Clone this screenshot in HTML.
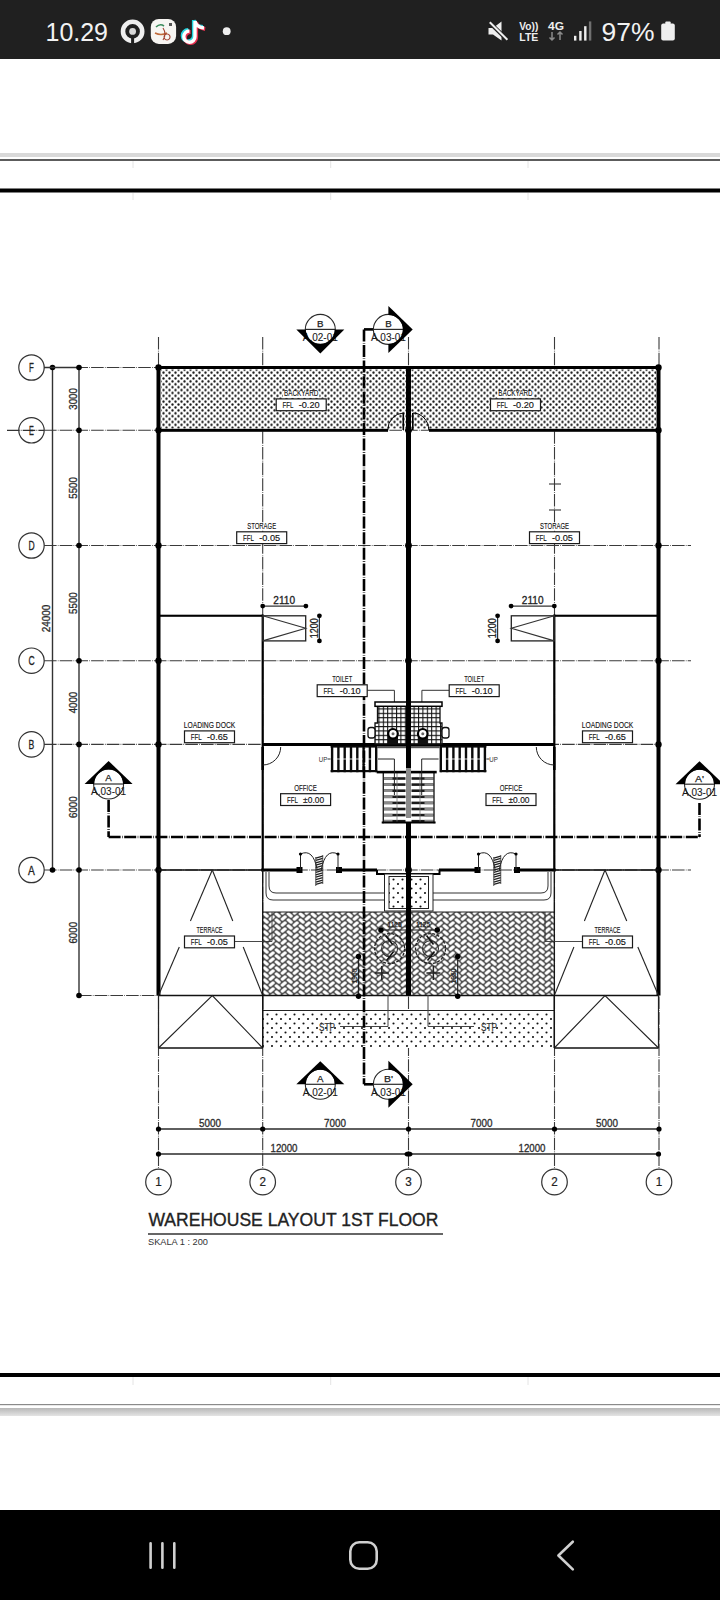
<!DOCTYPE html>
<html><head><meta charset="utf-8"><style>
html,body{margin:0;padding:0;background:#fff;}
body{width:720px;height:1600px;position:relative;overflow:hidden;font-family:"Liberation Sans",sans-serif;}
#sb{position:absolute;left:0;top:0;width:720px;height:58.5px;background:#202020;}
#nb{position:absolute;left:0;top:1510px;width:720px;height:90px;background:#000;}
svg{position:absolute;left:0;top:0;}
</style></head><body>
<svg width="720" height="1600" viewBox="0 0 720 1600">
<defs>
<pattern id="dots" x="0" y="0" width="6" height="5.8" patternUnits="userSpaceOnUse">
  <rect width="6" height="5.8" fill="#fff"/>
  <circle cx="1.5" cy="1.45" r="1.15" fill="#141414"/>
  <circle cx="4.5" cy="4.35" r="1.15" fill="#141414"/>
</pattern>
<pattern id="dots2" x="0" y="0" width="9" height="9" patternUnits="userSpaceOnUse">
  <rect width="9" height="9" fill="#fff"/>
  <circle cx="2" cy="2" r="1.05" fill="#111"/>
  <circle cx="6.5" cy="6.5" r="1.05" fill="#111"/>
</pattern>
<pattern id="herr" x="262.7" y="912" width="12" height="6" patternUnits="userSpaceOnUse">
  <rect width="12" height="6" fill="#4e4e4e"/>
  <g fill="#fff">
    <rect x="-3.3" y="-1.55" width="6.6" height="3.1" rx="1.4" transform="translate(3,3) rotate(40)"/>
    <rect x="-3.3" y="-1.55" width="6.6" height="3.1" rx="1.4" transform="translate(3,-3) rotate(40)"/>
    <rect x="-3.3" y="-1.55" width="6.6" height="3.1" rx="1.4" transform="translate(3,9) rotate(40)"/>
    <rect x="-3.3" y="-1.55" width="6.6" height="3.1" rx="1.4" transform="translate(9,0) rotate(-40)"/>
    <rect x="-3.3" y="-1.55" width="6.6" height="3.1" rx="1.4" transform="translate(9,6) rotate(-40)"/>
    <rect x="-3.3" y="-1.55" width="6.6" height="3.1" rx="1.4" transform="translate(9,-6) rotate(-40)"/>
    <rect x="-3.3" y="-1.55" width="6.6" height="3.1" rx="1.4" transform="translate(9,12) rotate(-40)"/>
  </g>
</pattern>
</defs>
<rect x="0" y="153" width="720" height="4" fill="#d9d9d9" stroke="none" stroke-width="1" />
<rect x="0" y="159" width="720" height="2" fill="#5c5c5c" stroke="none" stroke-width="1" />
<rect x="0" y="188.5" width="720" height="4" fill="#000" stroke="none" stroke-width="1" />
<rect x="0" y="1373" width="720" height="4" fill="#000" stroke="none" stroke-width="1" />
<rect x="0" y="1404" width="720" height="1.2" fill="#8a8a8a" stroke="none" stroke-width="1" />
<linearGradient id="g1" x1="0" y1="0" x2="0" y2="1"><stop offset="0" stop-color="#b8b8b8"/><stop offset="1" stop-color="#e4e4e4"/></linearGradient>
<rect x="0" y="1408" width="720" height="8" fill="url(#g1)" stroke="none" stroke-width="1" />
<line x1="133" y1="161" x2="133" y2="168" stroke="#e4e4e4" stroke-width="1" />
<line x1="133" y1="193" x2="133" y2="200" stroke="#e4e4e4" stroke-width="1" />
<line x1="133" y1="1377" x2="133" y2="1385" stroke="#e4e4e4" stroke-width="1" />
<line x1="330.7" y1="161" x2="330.7" y2="168" stroke="#e4e4e4" stroke-width="1" />
<line x1="330.7" y1="193" x2="330.7" y2="200" stroke="#e4e4e4" stroke-width="1" />
<line x1="330.7" y1="1377" x2="330.7" y2="1385" stroke="#e4e4e4" stroke-width="1" />
<line x1="528" y1="161" x2="528" y2="168" stroke="#e4e4e4" stroke-width="1" />
<line x1="528" y1="193" x2="528" y2="200" stroke="#e4e4e4" stroke-width="1" />
<line x1="528" y1="1377" x2="528" y2="1385" stroke="#e4e4e4" stroke-width="1" />
<line x1="158.5" y1="337" x2="158.5" y2="1170" stroke="#3a3a3a" stroke-width="1.1" stroke-dasharray="12.6 1.2 0.7 1.2"/>
<line x1="262.7" y1="337" x2="262.7" y2="1170" stroke="#3a3a3a" stroke-width="1.1" stroke-dasharray="12.6 1.2 0.7 1.2"/>
<line x1="408.5" y1="337" x2="408.5" y2="1170" stroke="#3a3a3a" stroke-width="1.1" stroke-dasharray="12.6 1.2 0.7 1.2"/>
<line x1="554.5" y1="337" x2="554.5" y2="1170" stroke="#3a3a3a" stroke-width="1.1" stroke-dasharray="12.6 1.2 0.7 1.2"/>
<line x1="659.0" y1="337" x2="659.0" y2="1170" stroke="#3a3a3a" stroke-width="1.1" stroke-dasharray="12.6 1.2 0.7 1.2"/>
<line x1="44" y1="367.5" x2="658.5" y2="367.5" stroke="#3a3a3a" stroke-width="1.1" stroke-dasharray="12.6 1.2 0.7 1.2"/>
<line x1="44" y1="430.3" x2="658.5" y2="430.3" stroke="#3a3a3a" stroke-width="1.1" stroke-dasharray="12.6 1.2 0.7 1.2"/>
<line x1="44" y1="545.5" x2="691" y2="545.5" stroke="#3a3a3a" stroke-width="1.1" stroke-dasharray="12.6 1.2 0.7 1.2"/>
<line x1="44" y1="660.7" x2="691" y2="660.7" stroke="#3a3a3a" stroke-width="1.1" stroke-dasharray="12.6 1.2 0.7 1.2"/>
<line x1="44" y1="744.4" x2="658.5" y2="744.4" stroke="#3a3a3a" stroke-width="1.1" stroke-dasharray="12.6 1.2 0.7 1.2"/>
<line x1="44" y1="870.0" x2="691" y2="870.0" stroke="#3a3a3a" stroke-width="1.1" stroke-dasharray="12.6 1.2 0.7 1.2"/>
<line x1="79" y1="995.5" x2="158.5" y2="995.5" stroke="#3a3a3a" stroke-width="1" stroke-dasharray="12.6 1.2 0.7 1.2"/>
<circle cx="31.5" cy="367.5" r="12.7" fill="#fff" stroke="#333" stroke-width="1.2"/>
<text x="31.5" y="372.0" font-family="Liberation Sans" font-size="12.5" text-anchor="middle" fill="#222" font-weight="normal" textLength="4.8" lengthAdjust="spacingAndGlyphs" stroke="#222" stroke-width="0.3">F</text>
<circle cx="31.5" cy="430.3" r="12.7" fill="#fff" stroke="#333" stroke-width="1.2"/>
<line x1="7" y1="430.3" x2="44" y2="430.3" stroke="#333" stroke-width="1.3" stroke-dasharray="12.6 1.2 0.7 1.2"/>
<text x="31.5" y="434.8" font-family="Liberation Sans" font-size="12.5" text-anchor="middle" fill="#222" font-weight="normal" textLength="4.8" lengthAdjust="spacingAndGlyphs" stroke="#222" stroke-width="0.3">E</text>
<circle cx="31.5" cy="545.5" r="12.7" fill="#fff" stroke="#333" stroke-width="1.2"/>
<text x="31.5" y="550.0" font-family="Liberation Sans" font-size="12.5" text-anchor="middle" fill="#222" font-weight="normal" textLength="6.2" lengthAdjust="spacingAndGlyphs" stroke="#222" stroke-width="0.3">D</text>
<circle cx="31.5" cy="660.7" r="12.7" fill="#fff" stroke="#333" stroke-width="1.2"/>
<text x="31.5" y="665.2" font-family="Liberation Sans" font-size="12.5" text-anchor="middle" fill="#222" font-weight="normal" textLength="6.2" lengthAdjust="spacingAndGlyphs" stroke="#222" stroke-width="0.3">C</text>
<circle cx="31.5" cy="744.4" r="12.7" fill="#fff" stroke="#333" stroke-width="1.2"/>
<text x="31.5" y="748.9" font-family="Liberation Sans" font-size="12.5" text-anchor="middle" fill="#222" font-weight="normal" textLength="5.8" lengthAdjust="spacingAndGlyphs" stroke="#222" stroke-width="0.3">B</text>
<circle cx="31.5" cy="870.0" r="12.7" fill="#fff" stroke="#333" stroke-width="1.2"/>
<text x="31.5" y="874.5" font-family="Liberation Sans" font-size="12.5" text-anchor="middle" fill="#222" font-weight="normal" textLength="6.8" lengthAdjust="spacingAndGlyphs" stroke="#222" stroke-width="0.3">A</text>
<circle cx="158.5" cy="1182" r="12.8" fill="#fff" stroke="#333" stroke-width="1.2"/>
<text x="158.5" y="1186.3" font-family="Liberation Sans" font-size="12" text-anchor="middle" fill="#222" font-weight="normal" textLength="6.5" lengthAdjust="spacingAndGlyphs" stroke="#222" stroke-width="0.2">1</text>
<circle cx="262.7" cy="1182" r="12.8" fill="#fff" stroke="#333" stroke-width="1.2"/>
<text x="262.7" y="1186.3" font-family="Liberation Sans" font-size="12" text-anchor="middle" fill="#222" font-weight="normal" textLength="6.5" lengthAdjust="spacingAndGlyphs" stroke="#222" stroke-width="0.2">2</text>
<circle cx="408.5" cy="1182" r="12.8" fill="#fff" stroke="#333" stroke-width="1.2"/>
<text x="408.5" y="1186.3" font-family="Liberation Sans" font-size="12" text-anchor="middle" fill="#222" font-weight="normal" textLength="6.5" lengthAdjust="spacingAndGlyphs" stroke="#222" stroke-width="0.2">3</text>
<circle cx="554.5" cy="1182" r="12.8" fill="#fff" stroke="#333" stroke-width="1.2"/>
<text x="554.5" y="1186.3" font-family="Liberation Sans" font-size="12" text-anchor="middle" fill="#222" font-weight="normal" textLength="6.5" lengthAdjust="spacingAndGlyphs" stroke="#222" stroke-width="0.2">2</text>
<circle cx="659.0" cy="1182" r="12.8" fill="#fff" stroke="#333" stroke-width="1.2"/>
<text x="659.0" y="1186.3" font-family="Liberation Sans" font-size="12" text-anchor="middle" fill="#222" font-weight="normal" textLength="6.5" lengthAdjust="spacingAndGlyphs" stroke="#222" stroke-width="0.2">1</text>
<line x1="52.5" y1="367.5" x2="52.5" y2="870.0" stroke="#333" stroke-width="1.4" />
<circle cx="52.5" cy="367.5" r="2.8" fill="#000"/>
<circle cx="52.5" cy="870.0" r="2.8" fill="#000"/>
<line x1="44" y1="367.5" x2="79" y2="367.5" stroke="#333" stroke-width="1.3" />
<line x1="79" y1="367.5" x2="79" y2="995.5" stroke="#333" stroke-width="1.4" />
<circle cx="79" cy="367.5" r="2.8" fill="#000"/>
<circle cx="79" cy="430.3" r="2.8" fill="#000"/>
<circle cx="79" cy="545.5" r="2.8" fill="#000"/>
<circle cx="79" cy="660.7" r="2.8" fill="#000"/>
<circle cx="79" cy="744.4" r="2.8" fill="#000"/>
<circle cx="79" cy="870.0" r="2.8" fill="#000"/>
<circle cx="79" cy="995.5" r="2.8" fill="#000"/>
<text x="50.5" y="618.4" font-family="Liberation Sans" font-size="11" text-anchor="middle" fill="#333" font-weight="normal" textLength="27.6" lengthAdjust="spacingAndGlyphs" transform="rotate(-90 50.5 618.4)" stroke="#222" stroke-width="0.3">24000</text>
<text x="77.2" y="398.9" font-family="Liberation Sans" font-size="11" text-anchor="middle" fill="#333" font-weight="normal" textLength="21.6" lengthAdjust="spacingAndGlyphs" transform="rotate(-90 77.2 398.9)" stroke="#222" stroke-width="0.3">3000</text>
<text x="77.2" y="487.9" font-family="Liberation Sans" font-size="11" text-anchor="middle" fill="#333" font-weight="normal" textLength="21.6" lengthAdjust="spacingAndGlyphs" transform="rotate(-90 77.2 487.9)" stroke="#222" stroke-width="0.3">5500</text>
<text x="77.2" y="603.1" font-family="Liberation Sans" font-size="11" text-anchor="middle" fill="#333" font-weight="normal" textLength="21.6" lengthAdjust="spacingAndGlyphs" transform="rotate(-90 77.2 603.1)" stroke="#222" stroke-width="0.3">5500</text>
<text x="77.2" y="702.55" font-family="Liberation Sans" font-size="11" text-anchor="middle" fill="#333" font-weight="normal" textLength="21.6" lengthAdjust="spacingAndGlyphs" transform="rotate(-90 77.2 702.55)" stroke="#222" stroke-width="0.3">4000</text>
<text x="77.2" y="807.2" font-family="Liberation Sans" font-size="11" text-anchor="middle" fill="#333" font-weight="normal" textLength="21.6" lengthAdjust="spacingAndGlyphs" transform="rotate(-90 77.2 807.2)" stroke="#222" stroke-width="0.3">6000</text>
<text x="77.2" y="932.75" font-family="Liberation Sans" font-size="11" text-anchor="middle" fill="#333" font-weight="normal" textLength="21.6" lengthAdjust="spacingAndGlyphs" transform="rotate(-90 77.2 932.75)" stroke="#222" stroke-width="0.3">6000</text>
<line x1="158.5" y1="1129" x2="658.5" y2="1129" stroke="#2a2a2a" stroke-width="1.4" />
<circle cx="158.5" cy="1129" r="2.6" fill="#000"/>
<circle cx="262.7" cy="1129" r="2.6" fill="#000"/>
<circle cx="408.5" cy="1129" r="2.6" fill="#000"/>
<circle cx="554.5" cy="1129" r="2.6" fill="#000"/>
<circle cx="659.0" cy="1129" r="2.6" fill="#000"/>
<line x1="158.5" y1="1154" x2="658.5" y2="1154" stroke="#2a2a2a" stroke-width="1.4" />
<circle cx="158.5" cy="1154" r="2.6" fill="#000"/>
<circle cx="658.5" cy="1154" r="2.6" fill="#000"/>
<ellipse cx="408.5" cy="1154" rx="4" ry="2.6" fill="#000"/>
<text x="210" y="1126.5" font-family="Liberation Sans" font-size="11" text-anchor="middle" fill="#333" font-weight="normal" textLength="22" lengthAdjust="spacingAndGlyphs" stroke="#222" stroke-width="0.3">5000</text>
<text x="335" y="1126.5" font-family="Liberation Sans" font-size="11" text-anchor="middle" fill="#333" font-weight="normal" textLength="22" lengthAdjust="spacingAndGlyphs" stroke="#222" stroke-width="0.3">7000</text>
<text x="481.5" y="1126.5" font-family="Liberation Sans" font-size="11" text-anchor="middle" fill="#333" font-weight="normal" textLength="22" lengthAdjust="spacingAndGlyphs" stroke="#222" stroke-width="0.3">7000</text>
<text x="607" y="1126.5" font-family="Liberation Sans" font-size="11" text-anchor="middle" fill="#333" font-weight="normal" textLength="22" lengthAdjust="spacingAndGlyphs" stroke="#222" stroke-width="0.3">5000</text>
<text x="284" y="1151.5" font-family="Liberation Sans" font-size="11" text-anchor="middle" fill="#333" font-weight="normal" textLength="27" lengthAdjust="spacingAndGlyphs" stroke="#222" stroke-width="0.3">12000</text>
<text x="532" y="1151.5" font-family="Liberation Sans" font-size="11" text-anchor="middle" fill="#333" font-weight="normal" textLength="27" lengthAdjust="spacingAndGlyphs" stroke="#222" stroke-width="0.3">12000</text>
<text x="148.4" y="1226.2" font-family="Liberation Sans" font-size="18" text-anchor="start" fill="#222" font-weight="normal" textLength="290" lengthAdjust="spacingAndGlyphs" stroke="#222" stroke-width="0.35">WAREHOUSE LAYOUT 1ST FLOOR</text>
<line x1="148" y1="1234" x2="443" y2="1234" stroke="#333" stroke-width="1.3" />
<text x="148" y="1244.5" font-family="Liberation Sans" font-size="9" text-anchor="start" fill="#333" font-weight="normal" textLength="60" lengthAdjust="spacingAndGlyphs" >SKALA 1 : 200</text>
<rect x="161" y="369.5" width="495" height="59" fill="url(#dots)" stroke="none" stroke-width="1" />
<rect x="262.7" y="912" width="291.6" height="83.5" fill="url(#herr)" stroke="none" stroke-width="1" />
<rect x="262.7" y="1010.5" width="291.6" height="37.5" fill="url(#dots2)" stroke="none" stroke-width="1" />
<rect x="156.5" y="366" width="4" height="629.5" fill="#000" stroke="none" stroke-width="1" />
<rect x="656.5" y="366" width="4" height="629.5" fill="#000" stroke="none" stroke-width="1" />
<rect x="156.5" y="366" width="504" height="3" fill="#000" stroke="none" stroke-width="1" />
<circle cx="158.5" cy="367.5" r="3.2" fill="#000"/>
<circle cx="658.5" cy="367.5" r="3.2" fill="#000"/>
<circle cx="158.5" cy="430.3" r="3.2" fill="#000"/>
<circle cx="658.5" cy="430.3" r="3.2" fill="#000"/>
<circle cx="408.5" cy="430.3" r="3.4" fill="#000"/>
<circle cx="158.5" cy="545.5" r="3.2" fill="#000"/>
<circle cx="658.5" cy="545.5" r="3.2" fill="#000"/>
<circle cx="408.5" cy="545.5" r="3.4" fill="#000"/>
<circle cx="158.5" cy="660.7" r="3.2" fill="#000"/>
<circle cx="658.5" cy="660.7" r="3.2" fill="#000"/>
<circle cx="408.5" cy="660.7" r="3.4" fill="#000"/>
<circle cx="158.5" cy="744.4" r="3.2" fill="#000"/>
<circle cx="658.5" cy="744.4" r="3.2" fill="#000"/>
<circle cx="408.5" cy="744.4" r="3.4" fill="#000"/>
<circle cx="158.5" cy="870" r="3.2" fill="#000"/>
<circle cx="658.5" cy="870" r="3.2" fill="#000"/>
<circle cx="408.5" cy="870" r="3.4" fill="#000"/>
<rect x="406" y="366" width="5" height="404" fill="#000" stroke="none" stroke-width="1" />
<rect x="406" y="823" width="5" height="172.5" fill="#000" stroke="none" stroke-width="1" />
<rect x="156.5" y="428.8" width="231.5" height="3" fill="#000" stroke="none" stroke-width="1" />
<rect x="429" y="428.8" width="231.5" height="3" fill="#000" stroke="none" stroke-width="1" />
<line x1="403.3" y1="413" x2="403.3" y2="430" stroke="#000" stroke-width="1.6" />
<line x1="412.8" y1="413" x2="412.8" y2="430" stroke="#000" stroke-width="1.6" />
<path d="M403.3,413 A16,17 0 0 0 387.8,430" fill="none" stroke="#000" stroke-width="1"/>
<path d="M412.8,413 A16,17 0 0 1 428.8,430" fill="none" stroke="#000" stroke-width="1"/>
<rect x="158.5" y="614.7" width="104.2" height="2.1" fill="#000" stroke="none" stroke-width="1" />
<rect x="554.3" y="614.7" width="104.2" height="2.1" fill="#000" stroke="none" stroke-width="1" />
<rect x="261.6" y="614.5" width="2.2" height="256" fill="#000" stroke="none" stroke-width="1" />
<rect x="553.2" y="614.5" width="2.2" height="256" fill="#000" stroke="none" stroke-width="1" />
<rect x="262.7" y="615.8" width="43" height="25.1" fill="none" stroke="#222" stroke-width="1.3" />
<path d="M262.7,615.8 L305.7,628.3 L262.7,640.9" fill="none" stroke="#333" stroke-width="1.1"/>
<rect x="511.3" y="615.8" width="43" height="25.1" fill="none" stroke="#222" stroke-width="1.3" />
<path d="M554.3,615.8 L511.3,628.3 L554.3,640.9" fill="none" stroke="#333" stroke-width="1.1"/>
<line x1="262.7" y1="606.1" x2="305.9" y2="606.1" stroke="#333" stroke-width="1.2" />
<circle cx="262.7" cy="606.1" r="2.4" fill="#000"/>
<circle cx="305.9" cy="606.1" r="2.4" fill="#000"/>
<text x="284.2" y="604.4" font-family="Liberation Sans" font-size="10.5" text-anchor="middle" fill="#222" font-weight="normal" textLength="21.7" lengthAdjust="spacingAndGlyphs" stroke="#222" stroke-width="0.3">2110</text>
<line x1="319.4" y1="615.8" x2="319.4" y2="640.9" stroke="#333" stroke-width="1.2" />
<circle cx="319.4" cy="615.8" r="2.4" fill="#000"/>
<circle cx="319.4" cy="640.9" r="2.4" fill="#000"/>
<text x="317.8" y="628.3" font-family="Liberation Sans" font-size="10.5" text-anchor="middle" fill="#222" font-weight="normal" textLength="20" lengthAdjust="spacingAndGlyphs" transform="rotate(-90 317.8 628.3)" stroke="#222" stroke-width="0.3">1200</text>
<line x1="511.1" y1="606.1" x2="554.3" y2="606.1" stroke="#333" stroke-width="1.2" />
<circle cx="511.1" cy="606.1" r="2.4" fill="#000"/>
<circle cx="554.3" cy="606.1" r="2.4" fill="#000"/>
<text x="532.7" y="604.4" font-family="Liberation Sans" font-size="10.5" text-anchor="middle" fill="#222" font-weight="normal" textLength="21.7" lengthAdjust="spacingAndGlyphs" stroke="#222" stroke-width="0.3">2110</text>
<line x1="497.6" y1="615.8" x2="497.6" y2="640.9" stroke="#333" stroke-width="1.2" />
<circle cx="497.6" cy="615.8" r="2.4" fill="#000"/>
<circle cx="497.6" cy="640.9" r="2.4" fill="#000"/>
<text x="496" y="628.3" font-family="Liberation Sans" font-size="10.5" text-anchor="middle" fill="#222" font-weight="normal" textLength="20" lengthAdjust="spacingAndGlyphs" transform="rotate(-90 496 628.3)" stroke="#222" stroke-width="0.3">1200</text>
<line x1="549" y1="484" x2="561" y2="484" stroke="#333" stroke-width="1.1" />
<line x1="549" y1="510" x2="561" y2="510" stroke="#333" stroke-width="1.1" />
<rect x="262.7" y="743" width="291.6" height="3" fill="#000" stroke="none" stroke-width="1" />
<line x1="158.5" y1="870" x2="262.7" y2="870" stroke="#111" stroke-width="1.7" />
<rect x="261.2" y="868.5" width="40" height="3" fill="#000" stroke="none" stroke-width="1" />
<rect x="337" y="868.5" width="40" height="3" fill="#000" stroke="none" stroke-width="1" />
<rect x="439" y="868.5" width="41" height="3" fill="#000" stroke="none" stroke-width="1" />
<rect x="516" y="868.5" width="39.8" height="3" fill="#000" stroke="none" stroke-width="1" />
<line x1="554.3" y1="870" x2="658.5" y2="870" stroke="#111" stroke-width="1.7" />
<path d="M377,870 L377,874 L439.5,874 L439.5,870" fill="none" stroke="#000" stroke-width="2"/>
<line x1="212.3" y1="870" x2="190.4370517928287" y2="921" stroke="#222" stroke-width="1.1" />
<line x1="179.29123505976096" y1="947" x2="158.5" y2="995.5" stroke="#222" stroke-width="1.1" />
<line x1="212.3" y1="870" x2="232.78127490039842" y2="921" stroke="#222" stroke-width="1.1" />
<line x1="243.22270916334662" y1="947" x2="262.7" y2="995.5" stroke="#222" stroke-width="1.1" />
<line x1="158.5" y1="995.5" x2="262.7" y2="995.5" stroke="#111" stroke-width="1.4" />
<line x1="158.5" y1="1048" x2="262.7" y2="1048" stroke="#111" stroke-width="1.4" />
<line x1="158.5" y1="995.5" x2="158.5" y2="1048" stroke="#222" stroke-width="1.2" />
<line x1="262.7" y1="995.5" x2="262.7" y2="1048" stroke="#222" stroke-width="1.2" />
<path d="M158.5,1048 L212.3,995.5 L262.7,1048" fill="none" stroke="#222" stroke-width="1.1"/>
<line x1="605" y1="870" x2="584.396812749004" y2="921" stroke="#222" stroke-width="1.1" />
<line x1="573.8932270916334" y1="947" x2="554.3" y2="995.5" stroke="#222" stroke-width="1.1" />
<line x1="605" y1="870" x2="626.7410358565737" y2="921" stroke="#222" stroke-width="1.1" />
<line x1="637.8247011952192" y1="947" x2="658.5" y2="995.5" stroke="#222" stroke-width="1.1" />
<line x1="554.3" y1="995.5" x2="658.5" y2="995.5" stroke="#111" stroke-width="1.4" />
<line x1="554.3" y1="1048" x2="658.5" y2="1048" stroke="#111" stroke-width="1.4" />
<line x1="554.3" y1="995.5" x2="554.3" y2="1048" stroke="#222" stroke-width="1.2" />
<line x1="658.5" y1="995.5" x2="658.5" y2="1048" stroke="#222" stroke-width="1.2" />
<path d="M554.3,1048 L605,995.5 L658.5,1048" fill="none" stroke="#222" stroke-width="1.1"/>
<line x1="262.7" y1="912" x2="554.3" y2="912" stroke="#222" stroke-width="1.1" />
<line x1="262.7" y1="995.5" x2="554.3" y2="995.5" stroke="#111" stroke-width="1.4" />
<line x1="262.7" y1="1010.5" x2="554.3" y2="1010.5" stroke="#222" stroke-width="1.2" />
<line x1="262.7" y1="870" x2="262.7" y2="1048" stroke="#111" stroke-width="1.3" />
<line x1="554.3" y1="870" x2="554.3" y2="1048" stroke="#111" stroke-width="1.3" />
<path d="M269,872 L269,886 Q269,893 276,893 L384,893" fill="none" stroke="#333" stroke-width="1"/>
<path d="M266,872 L266,893 Q266,900 273,900 L384,900" fill="none" stroke="#333" stroke-width="1"/>
<path d="M548,872 L548,886 Q548,893 541,893 L433,893" fill="none" stroke="#333" stroke-width="1"/>
<path d="M551,872 L551,893 Q551,900 544,900 L433,900" fill="none" stroke="#333" stroke-width="1"/>
<path d="M234.5,941.5 L272,941.5 L272,912" fill="none" stroke="#333" stroke-width="0.9"/>
<path d="M633,941.5 L545,941.5 L545,912" fill="none" stroke="#333" stroke-width="0.9"/>
<rect x="384.5" y="874" width="48.5" height="37" fill="#fff" stroke="#222" stroke-width="1" />
<rect x="389" y="876.5" width="39.5" height="32" fill="url(#dots2)" stroke="#222" stroke-width="1" />
<text x="327" y="1030.5" font-family="Liberation Sans" font-size="10" text-anchor="middle" fill="#333" font-weight="normal" textLength="16" lengthAdjust="spacingAndGlyphs" stroke="#333" stroke-width="0.2">STP</text>
<text x="489" y="1030.5" font-family="Liberation Sans" font-size="10" text-anchor="middle" fill="#333" font-weight="normal" textLength="16" lengthAdjust="spacingAndGlyphs" stroke="#333" stroke-width="0.2">STP</text>
<path d="M340,1026.5 L388,1026.5 L388,995" fill="none" stroke="#444" stroke-width="1"/>
<path d="M474,1026.5 L428,1026.5 L428,995" fill="none" stroke="#444" stroke-width="1"/>
<rect x="330.6" y="746" width="46.599999999999966" height="26.200000000000045" fill="#fff" stroke="none" stroke-width="1" />
<rect x="330.90000000000003" y="746" width="2.4" height="26.200000000000045" fill="#0a0a0a" stroke="none" stroke-width="1" />
<rect x="337.20000000000005" y="746" width="2.4" height="26.200000000000045" fill="#0a0a0a" stroke="none" stroke-width="1" />
<rect x="343.50000000000006" y="746" width="2.4" height="26.200000000000045" fill="#0a0a0a" stroke="none" stroke-width="1" />
<rect x="349.8" y="746" width="2.4" height="26.200000000000045" fill="#0a0a0a" stroke="none" stroke-width="1" />
<rect x="356.1" y="746" width="2.4" height="26.200000000000045" fill="#0a0a0a" stroke="none" stroke-width="1" />
<rect x="362.40000000000003" y="746" width="2.4" height="26.200000000000045" fill="#0a0a0a" stroke="none" stroke-width="1" />
<rect x="368.70000000000005" y="746" width="2.4" height="26.200000000000045" fill="#0a0a0a" stroke="none" stroke-width="1" />
<rect x="375.00000000000006" y="746" width="2.4" height="26.200000000000045" fill="#0a0a0a" stroke="none" stroke-width="1" />
<rect x="330.6" y="746" width="46.599999999999966" height="1.6" fill="#0a0a0a" stroke="none" stroke-width="1" />
<rect x="330.6" y="770.0" width="46.599999999999966" height="2.2" fill="#0a0a0a" stroke="none" stroke-width="1" />
<line x1="333.6" y1="759" x2="374.2" y2="759" stroke="#fff" stroke-width="0.8" />
<rect x="439.8" y="746" width="46.599999999999966" height="26.200000000000045" fill="#fff" stroke="none" stroke-width="1" />
<rect x="483.7" y="746" width="2.4" height="26.200000000000045" fill="#0a0a0a" stroke="none" stroke-width="1" />
<rect x="477.4" y="746" width="2.4" height="26.200000000000045" fill="#0a0a0a" stroke="none" stroke-width="1" />
<rect x="471.09999999999997" y="746" width="2.4" height="26.200000000000045" fill="#0a0a0a" stroke="none" stroke-width="1" />
<rect x="464.8" y="746" width="2.4" height="26.200000000000045" fill="#0a0a0a" stroke="none" stroke-width="1" />
<rect x="458.5" y="746" width="2.4" height="26.200000000000045" fill="#0a0a0a" stroke="none" stroke-width="1" />
<rect x="452.2" y="746" width="2.4" height="26.200000000000045" fill="#0a0a0a" stroke="none" stroke-width="1" />
<rect x="445.9" y="746" width="2.4" height="26.200000000000045" fill="#0a0a0a" stroke="none" stroke-width="1" />
<rect x="439.59999999999997" y="746" width="2.4" height="26.200000000000045" fill="#0a0a0a" stroke="none" stroke-width="1" />
<rect x="439.8" y="746" width="46.599999999999966" height="1.6" fill="#0a0a0a" stroke="none" stroke-width="1" />
<rect x="439.8" y="770.0" width="46.599999999999966" height="2.2" fill="#0a0a0a" stroke="none" stroke-width="1" />
<line x1="442.8" y1="759" x2="483.4" y2="759" stroke="#fff" stroke-width="0.8" />
<line x1="327.5" y1="759" x2="330.6" y2="759" stroke="#333" stroke-width="1" />
<line x1="486.4" y1="759" x2="489.5" y2="759" stroke="#333" stroke-width="1" />
<rect x="377.2" y="746" width="62.6" height="2.2" fill="#555" stroke="none" stroke-width="1" />
<rect x="381.7" y="772.2" width="53.9" height="51.1" fill="#fff" stroke="none" stroke-width="1" />
<rect x="383.5" y="777.2" width="22" height="2.6" fill="#1a1a1a" stroke="none" stroke-width="1" />
<rect x="411.5" y="777.2" width="22" height="2.6" fill="#1a1a1a" stroke="none" stroke-width="1" />
<rect x="383.5" y="777.2" width="9" height="2.6" fill="#8a8a8a" stroke="none" stroke-width="1" />
<rect x="424.5" y="777.2" width="9" height="2.6" fill="#8a8a8a" stroke="none" stroke-width="1" />
<rect x="383.5" y="783.3000000000001" width="22" height="2.6" fill="#1a1a1a" stroke="none" stroke-width="1" />
<rect x="411.5" y="783.3000000000001" width="22" height="2.6" fill="#1a1a1a" stroke="none" stroke-width="1" />
<rect x="383.5" y="783.3000000000001" width="9" height="2.6" fill="#8a8a8a" stroke="none" stroke-width="1" />
<rect x="424.5" y="783.3000000000001" width="9" height="2.6" fill="#8a8a8a" stroke="none" stroke-width="1" />
<rect x="383.5" y="789.4000000000001" width="22" height="2.6" fill="#1a1a1a" stroke="none" stroke-width="1" />
<rect x="411.5" y="789.4000000000001" width="22" height="2.6" fill="#1a1a1a" stroke="none" stroke-width="1" />
<rect x="383.5" y="789.4000000000001" width="9" height="2.6" fill="#8a8a8a" stroke="none" stroke-width="1" />
<rect x="424.5" y="789.4000000000001" width="9" height="2.6" fill="#8a8a8a" stroke="none" stroke-width="1" />
<rect x="383.5" y="795.5" width="22" height="2.6" fill="#1a1a1a" stroke="none" stroke-width="1" />
<rect x="411.5" y="795.5" width="22" height="2.6" fill="#1a1a1a" stroke="none" stroke-width="1" />
<rect x="383.5" y="795.5" width="9" height="2.6" fill="#8a8a8a" stroke="none" stroke-width="1" />
<rect x="424.5" y="795.5" width="9" height="2.6" fill="#8a8a8a" stroke="none" stroke-width="1" />
<rect x="383.5" y="801.6" width="22" height="2.6" fill="#1a1a1a" stroke="none" stroke-width="1" />
<rect x="411.5" y="801.6" width="22" height="2.6" fill="#1a1a1a" stroke="none" stroke-width="1" />
<rect x="383.5" y="801.6" width="9" height="2.6" fill="#8a8a8a" stroke="none" stroke-width="1" />
<rect x="424.5" y="801.6" width="9" height="2.6" fill="#8a8a8a" stroke="none" stroke-width="1" />
<rect x="383.5" y="807.7" width="22" height="2.6" fill="#1a1a1a" stroke="none" stroke-width="1" />
<rect x="411.5" y="807.7" width="22" height="2.6" fill="#1a1a1a" stroke="none" stroke-width="1" />
<rect x="383.5" y="807.7" width="9" height="2.6" fill="#8a8a8a" stroke="none" stroke-width="1" />
<rect x="424.5" y="807.7" width="9" height="2.6" fill="#8a8a8a" stroke="none" stroke-width="1" />
<rect x="383.5" y="813.8000000000001" width="22" height="2.6" fill="#1a1a1a" stroke="none" stroke-width="1" />
<rect x="411.5" y="813.8000000000001" width="22" height="2.6" fill="#1a1a1a" stroke="none" stroke-width="1" />
<rect x="383.5" y="813.8000000000001" width="9" height="2.6" fill="#8a8a8a" stroke="none" stroke-width="1" />
<rect x="424.5" y="813.8000000000001" width="9" height="2.6" fill="#8a8a8a" stroke="none" stroke-width="1" />
<rect x="383.5" y="819.9000000000001" width="22" height="2.6" fill="#1a1a1a" stroke="none" stroke-width="1" />
<rect x="411.5" y="819.9000000000001" width="22" height="2.6" fill="#1a1a1a" stroke="none" stroke-width="1" />
<rect x="383.5" y="819.9000000000001" width="9" height="2.6" fill="#8a8a8a" stroke="none" stroke-width="1" />
<rect x="424.5" y="819.9000000000001" width="9" height="2.6" fill="#8a8a8a" stroke="none" stroke-width="1" />
<line x1="383.3" y1="772.2" x2="383.3" y2="823.3" stroke="#222" stroke-width="1.4" />
<line x1="434" y1="772.2" x2="434" y2="823.3" stroke="#222" stroke-width="1.4" />
<line x1="397" y1="772.2" x2="397" y2="823.3" stroke="#777" stroke-width="0.8" />
<line x1="420" y1="772.2" x2="420" y2="823.3" stroke="#777" stroke-width="0.8" />
<rect x="376.7" y="770.8" width="60" height="2.6" fill="#000" stroke="none" stroke-width="1" />
<rect x="381.7" y="821.5" width="53.9" height="2" fill="#000" stroke="none" stroke-width="1" />
<path d="M367.2,690.3 L394.4,690.3 L394.4,735" fill="none" stroke="#333" stroke-width="1"/>
<path d="M449,690.3 L421.9,690.3 L421.9,735" fill="none" stroke="#333" stroke-width="1"/>
<path d="M378,759 L394.4,759 L394.4,795" fill="none" stroke="#222" stroke-width="1"/>
<path d="M438.6,759 L421.7,759 L421.7,795" fill="none" stroke="#222" stroke-width="1"/>
<text x="323" y="761.7" font-family="Liberation Sans" font-size="7.2" text-anchor="middle" fill="#333" font-weight="normal" textLength="8.5" lengthAdjust="spacingAndGlyphs" >UP</text>
<text x="493.5" y="761.7" font-family="Liberation Sans" font-size="7.2" text-anchor="middle" fill="#333" font-weight="normal" textLength="8.5" lengthAdjust="spacingAndGlyphs" >UP</text>
<pattern id="tile" x="0" y="0" width="4.4" height="4.4" patternUnits="userSpaceOnUse"><rect width="4.4" height="4.4" fill="#fff"/><path d="M0,0 H4.4 M0,0 V4.4" stroke="#0e0e0e" stroke-width="2.1"/></pattern>
<path d="M377.5,706 L440,706 L440,723 L442,723 L442,744 L375,744 L375,723 L377.5,723 Z" fill="url(#tile)" stroke="#111" stroke-width="1.3"/>
<rect x="375" y="702" width="67" height="4.3" fill="#fff" stroke="#000" stroke-width="1.5" />
<rect x="368" y="727.5" width="7" height="10.5" rx="2.5" fill="#fff" stroke="#111" stroke-width="1.3"/>
<rect x="442" y="727.5" width="7" height="10.5" rx="2.5" fill="#fff" stroke="#111" stroke-width="1.3"/>
<rect x="388" y="735" width="10" height="9" fill="#111"/>
<circle cx="393" cy="733.8" r="4.8" fill="#fff" stroke="#000" stroke-width="2.2"/>
<circle cx="393" cy="733.8" r="1.5" fill="#666"/>
<rect x="417.75" y="735" width="10" height="9" fill="#111"/>
<circle cx="422.75" cy="733.8" r="4.8" fill="#fff" stroke="#000" stroke-width="2.2"/>
<circle cx="422.75" cy="733.8" r="1.5" fill="#666"/>
<rect x="406" y="366" width="5" height="404" fill="#000" stroke="none" stroke-width="1" />
<rect x="406" y="823" width="5" height="172.5" fill="#000" stroke="none" stroke-width="1" />
<rect x="406" y="768" width="5" height="50" fill="#8c8c8c" stroke="none" stroke-width="1" />
<line x1="262.7" y1="747" x2="262.7" y2="770" stroke="#000" stroke-width="2.6" />
<path d="M262.7,765 A18,18 0 0 0 280.7,747" fill="none" stroke="#222" stroke-width="1"/>
<line x1="554.3" y1="747" x2="554.3" y2="770" stroke="#000" stroke-width="2.6" />
<path d="M554.3,765 A18,18 0 0 1 536.3,747" fill="none" stroke="#222" stroke-width="1"/>
<rect x="296.5" y="867" width="6" height="6" fill="#000" stroke="none" stroke-width="1" />
<rect x="336" y="867" width="6" height="6" fill="#000" stroke="none" stroke-width="1" />
<path d="M300.5,870 L300.5,854 Q313.25,848 317.25,870" fill="none" stroke="#222" stroke-width="1"/>
<path d="M338,870 L338,854 Q325.25,848 321.25,870" fill="none" stroke="#222" stroke-width="1"/>
<circle cx="300.5" cy="854" r="1.6" fill="#000"/>
<circle cx="338" cy="854" r="1.6" fill="#000"/>
<path d="M315.75,858.0 L322.75,856.0 M315.75,860.4 L322.75,858.4 M315.75,862.8 L322.75,860.8 M315.75,865.2 L322.75,863.2 M315.75,867.6 L322.75,865.6 M315.75,870.0 L322.75,868.0 M315.75,872.4 L322.75,870.4 M315.75,874.8 L322.75,872.8 M315.75,877.2 L322.75,875.2 M315.75,879.6 L322.75,877.6 M315.75,882.0 L322.75,880.0 M315.75,884.4 L322.75,882.4" fill="none" stroke="#222" stroke-width="1.3"/>
<path d="M315.75,857 V886 M322.75,855 V884" fill="none" stroke="#333" stroke-width="0.8"/>
<rect x="474.5" y="867" width="6" height="6" fill="#000" stroke="none" stroke-width="1" />
<rect x="514" y="867" width="6" height="6" fill="#000" stroke="none" stroke-width="1" />
<path d="M478.5,870 L478.5,854 Q491.25,848 495.25,870" fill="none" stroke="#222" stroke-width="1"/>
<path d="M516,870 L516,854 Q503.25,848 499.25,870" fill="none" stroke="#222" stroke-width="1"/>
<circle cx="478.5" cy="854" r="1.6" fill="#000"/>
<circle cx="516" cy="854" r="1.6" fill="#000"/>
<path d="M493.75,858.0 L500.75,856.0 M493.75,860.4 L500.75,858.4 M493.75,862.8 L500.75,860.8 M493.75,865.2 L500.75,863.2 M493.75,867.6 L500.75,865.6 M493.75,870.0 L500.75,868.0 M493.75,872.4 L500.75,870.4 M493.75,874.8 L500.75,872.8 M493.75,877.2 L500.75,875.2 M493.75,879.6 L500.75,877.6 M493.75,882.0 L500.75,880.0 M493.75,884.4 L500.75,882.4" fill="none" stroke="#222" stroke-width="1.3"/>
<path d="M493.75,857 V886 M500.75,855 V884" fill="none" stroke="#333" stroke-width="0.8"/>
<circle cx="389.6" cy="948.6" r="15" fill="none" stroke="#222" stroke-width="1.3" stroke-dasharray="3 1.5"/>
<circle cx="389.6" cy="948.6" r="8" fill="none" stroke="#333" stroke-width="1.1"/>
<path d="M385.6,935.6 L392.6,944.6 M393.6,951.6 L386.6,960.6" stroke="#111" stroke-width="1.6"/>
<circle cx="430.5" cy="948.6" r="15" fill="none" stroke="#222" stroke-width="1.3" stroke-dasharray="3 1.5"/>
<circle cx="430.5" cy="948.6" r="8" fill="none" stroke="#333" stroke-width="1.1"/>
<path d="M426.5,935.6 L433.5,944.6 M434.5,951.6 L427.5,960.6" stroke="#111" stroke-width="1.6"/>
<path d="M374.8,973 L388.8,973 M381.8,966 L381.8,980" stroke="#222" stroke-width="1.5"/>
<path d="M426.4,973 L440.4,973 M433.4,966 L433.4,980" stroke="#222" stroke-width="1.5"/>
<line x1="380.9" y1="930" x2="437.3" y2="930" stroke="#222" stroke-width="1.2" />
<circle cx="380.9" cy="930" r="2.7" fill="#000"/>
<circle cx="408.5" cy="930" r="2.7" fill="#000"/>
<circle cx="437.3" cy="930" r="2.7" fill="#000"/>
<text x="394.5" y="926.5" font-family="Liberation Sans" font-size="8" text-anchor="middle" fill="#222" font-weight="normal" textLength="14" lengthAdjust="spacingAndGlyphs" stroke="#222" stroke-width="0.25">1125</text>
<text x="423" y="926.5" font-family="Liberation Sans" font-size="8" text-anchor="middle" fill="#222" font-weight="normal" textLength="14" lengthAdjust="spacingAndGlyphs" stroke="#222" stroke-width="0.25">1125</text>
<line x1="358.5" y1="956.4" x2="358.5" y2="996.3" stroke="#222" stroke-width="1.2" />
<circle cx="358.5" cy="956.4" r="2.7" fill="#000"/>
<circle cx="358.5" cy="996.3" r="2.7" fill="#000"/>
<line x1="457.7" y1="956.4" x2="457.7" y2="996.3" stroke="#222" stroke-width="1.2" />
<circle cx="457.7" cy="956.4" r="2.7" fill="#000"/>
<circle cx="457.7" cy="996.3" r="2.7" fill="#000"/>
<text x="356.5" y="976" font-family="Liberation Sans" font-size="8" text-anchor="middle" fill="#222" font-weight="normal" textLength="15" lengthAdjust="spacingAndGlyphs" transform="rotate(-90 356.5 976)" stroke="#222" stroke-width="0.25">1950</text>
<text x="455.7" y="976" font-family="Liberation Sans" font-size="8" text-anchor="middle" fill="#222" font-weight="normal" textLength="15" lengthAdjust="spacingAndGlyphs" transform="rotate(-90 455.7 976)" stroke="#222" stroke-width="0.25">1950</text>
<line x1="364" y1="329.4" x2="364" y2="1084.3" stroke="#000" stroke-width="2.6" stroke-dasharray="12 1.5 0.6 1.5"/>
<line x1="364" y1="329.4" x2="374" y2="329.4" stroke="#000" stroke-width="2.6" />
<line x1="364" y1="1084.3" x2="374" y2="1084.3" stroke="#000" stroke-width="2.6" />
<line x1="108.6" y1="800" x2="108.6" y2="837" stroke="#000" stroke-width="2.6" stroke-dasharray="12 1.5 0.6 1.5"/>
<line x1="108.6" y1="837" x2="699.5" y2="837" stroke="#000" stroke-width="2.6" stroke-dasharray="12 1.5 0.6 1.5"/>
<line x1="699.5" y1="803" x2="699.5" y2="837" stroke="#000" stroke-width="2.6" stroke-dasharray="12 1.5 0.6 1.5"/>
<circle cx="320.3" cy="329.4" r="15" fill="#fff" stroke="#2a2a2a" stroke-width="1.1"/>
<line x1="305.3" y1="329.4" x2="335.3" y2="329.4" stroke="#2a2a2a" stroke-width="1.2" />
<text x="320.3" y="326.79999999999995" font-family="Liberation Sans" font-size="9.5" text-anchor="middle" fill="#1a1a1a" font-weight="normal" textLength="6.5" lengthAdjust="spacingAndGlyphs" stroke="#1a1a1a" stroke-width="0.25">B</text>
<text x="320.3" y="340.7" font-family="Liberation Sans" font-size="10" text-anchor="middle" fill="#1a1a1a" font-weight="normal" textLength="35" lengthAdjust="spacingAndGlyphs" stroke="#1a1a1a" stroke-width="0.1">A.02-01</text>
<mask id="mk320_329" maskUnits="userSpaceOnUse" x="0" y="0" width="720" height="1600"><rect x="280.3" y="289.4" width="80" height="80" fill="#fff"/><circle cx="320.3" cy="329.4" r="14.5" fill="#000"/></mask>
<path d="M296.3,329.4 L344.3,329.4 L320.3,353.4 Z" fill="#000" mask="url(#mk320_329)"/>
<circle cx="388.4" cy="329.4" r="15" fill="#fff" stroke="#2a2a2a" stroke-width="1.1"/>
<line x1="373.4" y1="329.4" x2="403.4" y2="329.4" stroke="#2a2a2a" stroke-width="1.2" />
<text x="388.4" y="326.79999999999995" font-family="Liberation Sans" font-size="9.5" text-anchor="middle" fill="#1a1a1a" font-weight="normal" textLength="6.5" lengthAdjust="spacingAndGlyphs" stroke="#1a1a1a" stroke-width="0.25">B</text>
<text x="388.4" y="340.7" font-family="Liberation Sans" font-size="10" text-anchor="middle" fill="#1a1a1a" font-weight="normal" textLength="35" lengthAdjust="spacingAndGlyphs" stroke="#1a1a1a" stroke-width="0.1">A.03-01</text>
<mask id="mk388_329" maskUnits="userSpaceOnUse" x="0" y="0" width="720" height="1600"><rect x="348.4" y="289.4" width="80" height="80" fill="#fff"/><circle cx="388.4" cy="329.4" r="14.5" fill="#000"/></mask>
<path d="M388.4,305.9 L388.4,352.9 L412.7,329.4 Z" fill="#000" mask="url(#mk388_329)"/>
<circle cx="108.6" cy="784" r="15" fill="#fff" stroke="#2a2a2a" stroke-width="1.1"/>
<line x1="93.6" y1="784" x2="123.6" y2="784" stroke="#2a2a2a" stroke-width="1.2" />
<text x="108.6" y="781.4" font-family="Liberation Sans" font-size="9.5" text-anchor="middle" fill="#1a1a1a" font-weight="normal" textLength="6.5" lengthAdjust="spacingAndGlyphs" stroke="#1a1a1a" stroke-width="0.25">A</text>
<text x="108.6" y="795.3" font-family="Liberation Sans" font-size="10" text-anchor="middle" fill="#1a1a1a" font-weight="normal" textLength="35" lengthAdjust="spacingAndGlyphs" stroke="#1a1a1a" stroke-width="0.1">A.03-01</text>
<mask id="mk108_784" maskUnits="userSpaceOnUse" x="0" y="0" width="720" height="1600"><rect x="68.6" y="744" width="80" height="80" fill="#fff"/><circle cx="108.6" cy="784" r="14.5" fill="#000"/></mask>
<path d="M84.6,784 L132.6,784 L108.6,761 Z" fill="#000" mask="url(#mk108_784)"/>
<circle cx="699.5" cy="784.2" r="15" fill="#fff" stroke="#2a2a2a" stroke-width="1.1"/>
<line x1="684.5" y1="784.2" x2="714.5" y2="784.2" stroke="#2a2a2a" stroke-width="1.2" />
<text x="699.5" y="781.6" font-family="Liberation Sans" font-size="9.5" text-anchor="middle" fill="#1a1a1a" font-weight="normal" textLength="9" lengthAdjust="spacingAndGlyphs" stroke="#1a1a1a" stroke-width="0.25">A'</text>
<text x="699.5" y="795.5" font-family="Liberation Sans" font-size="10" text-anchor="middle" fill="#1a1a1a" font-weight="normal" textLength="35" lengthAdjust="spacingAndGlyphs" stroke="#1a1a1a" stroke-width="0.1">A.03-01</text>
<mask id="mk699_784" maskUnits="userSpaceOnUse" x="0" y="0" width="720" height="1600"><rect x="659.5" y="744.2" width="80" height="80" fill="#fff"/><circle cx="699.5" cy="784.2" r="14.5" fill="#000"/></mask>
<path d="M675.5,784.2 L723.5,784.2 L699.5,761.2 Z" fill="#000" mask="url(#mk699_784)"/>
<circle cx="320.3" cy="1084.3" r="15" fill="#fff" stroke="#2a2a2a" stroke-width="1.1"/>
<line x1="305.3" y1="1084.3" x2="335.3" y2="1084.3" stroke="#2a2a2a" stroke-width="1.2" />
<text x="320.3" y="1081.7" font-family="Liberation Sans" font-size="9.5" text-anchor="middle" fill="#1a1a1a" font-weight="normal" textLength="6.5" lengthAdjust="spacingAndGlyphs" stroke="#1a1a1a" stroke-width="0.25">A</text>
<text x="320.3" y="1095.6" font-family="Liberation Sans" font-size="10" text-anchor="middle" fill="#1a1a1a" font-weight="normal" textLength="35" lengthAdjust="spacingAndGlyphs" stroke="#1a1a1a" stroke-width="0.1">A.02-01</text>
<mask id="mk320_1084" maskUnits="userSpaceOnUse" x="0" y="0" width="720" height="1600"><rect x="280.3" y="1044.3" width="80" height="80" fill="#fff"/><circle cx="320.3" cy="1084.3" r="14.5" fill="#000"/></mask>
<path d="M296.3,1084.3 L344.3,1084.3 L320.3,1061.3 Z" fill="#000" mask="url(#mk320_1084)"/>
<circle cx="388.4" cy="1084.3" r="15" fill="#fff" stroke="#2a2a2a" stroke-width="1.1"/>
<line x1="373.4" y1="1084.3" x2="403.4" y2="1084.3" stroke="#2a2a2a" stroke-width="1.2" />
<text x="388.4" y="1081.7" font-family="Liberation Sans" font-size="9.5" text-anchor="middle" fill="#1a1a1a" font-weight="normal" textLength="9" lengthAdjust="spacingAndGlyphs" stroke="#1a1a1a" stroke-width="0.25">B'</text>
<text x="388.4" y="1095.6" font-family="Liberation Sans" font-size="10" text-anchor="middle" fill="#1a1a1a" font-weight="normal" textLength="35" lengthAdjust="spacingAndGlyphs" stroke="#1a1a1a" stroke-width="0.1">A.03-01</text>
<mask id="mk388_1084" maskUnits="userSpaceOnUse" x="0" y="0" width="720" height="1600"><rect x="348.4" y="1044.3" width="80" height="80" fill="#fff"/><circle cx="388.4" cy="1084.3" r="14.5" fill="#000"/></mask>
<path d="M388.4,1060.8 L388.4,1107.8 L412.7,1084.3 Z" fill="#000" mask="url(#mk388_1084)"/>
<rect x="276.2" y="398.9" width="50" height="11.8" fill="#fff" stroke="#1a1a1a" stroke-width="1.2" />
<rect x="283.0" y="390.9" width="36.4" height="7" fill="#fff"/>
<text x="301.2" y="396.0" font-family="Liberation Sans" font-size="8.2" text-anchor="middle" fill="#111" font-weight="normal" textLength="34.4" lengthAdjust="spacingAndGlyphs" stroke="#111" stroke-width="0.12">BACKYARD</text>
<text x="282.5" y="408.0" font-family="Liberation Sans" font-size="8.2" text-anchor="start" fill="#111" font-weight="normal" textLength="11" lengthAdjust="spacingAndGlyphs" stroke="#111" stroke-width="0.12">FFL</text>
<text x="319.7" y="408.0" font-family="Liberation Sans" font-size="8.2" text-anchor="end" fill="#111" font-weight="normal" textLength="21" lengthAdjust="spacingAndGlyphs" stroke="#111" stroke-width="0.12">-0.20</text>
<rect x="490.5" y="398.9" width="50" height="11.8" fill="#fff" stroke="#1a1a1a" stroke-width="1.2" />
<rect x="497.3" y="390.9" width="36.4" height="7" fill="#fff"/>
<text x="515.5" y="396.0" font-family="Liberation Sans" font-size="8.2" text-anchor="middle" fill="#111" font-weight="normal" textLength="34.4" lengthAdjust="spacingAndGlyphs" stroke="#111" stroke-width="0.12">BACKYARD</text>
<text x="496.8" y="408.0" font-family="Liberation Sans" font-size="8.2" text-anchor="start" fill="#111" font-weight="normal" textLength="11" lengthAdjust="spacingAndGlyphs" stroke="#111" stroke-width="0.12">FFL</text>
<text x="534.0" y="408.0" font-family="Liberation Sans" font-size="8.2" text-anchor="end" fill="#111" font-weight="normal" textLength="21" lengthAdjust="spacingAndGlyphs" stroke="#111" stroke-width="0.12">-0.20</text>
<rect x="236.7" y="531.8" width="50" height="11.8" fill="#fff" stroke="#1a1a1a" stroke-width="1.2" />
<rect x="246.2" y="523.8" width="31" height="7" fill="#fff"/>
<text x="261.7" y="528.9" font-family="Liberation Sans" font-size="8.2" text-anchor="middle" fill="#111" font-weight="normal" textLength="29" lengthAdjust="spacingAndGlyphs" stroke="#111" stroke-width="0.12">STORAGE</text>
<text x="243.0" y="540.9" font-family="Liberation Sans" font-size="8.2" text-anchor="start" fill="#111" font-weight="normal" textLength="11" lengthAdjust="spacingAndGlyphs" stroke="#111" stroke-width="0.12">FFL</text>
<text x="280.2" y="540.9" font-family="Liberation Sans" font-size="8.2" text-anchor="end" fill="#111" font-weight="normal" textLength="21" lengthAdjust="spacingAndGlyphs" stroke="#111" stroke-width="0.12">-0.05</text>
<rect x="529.5" y="531.8" width="50" height="11.8" fill="#fff" stroke="#1a1a1a" stroke-width="1.2" />
<rect x="539.0" y="523.8" width="31" height="7" fill="#fff"/>
<text x="554.5" y="528.9" font-family="Liberation Sans" font-size="8.2" text-anchor="middle" fill="#111" font-weight="normal" textLength="29" lengthAdjust="spacingAndGlyphs" stroke="#111" stroke-width="0.12">STORAGE</text>
<text x="535.8" y="540.9" font-family="Liberation Sans" font-size="8.2" text-anchor="start" fill="#111" font-weight="normal" textLength="11" lengthAdjust="spacingAndGlyphs" stroke="#111" stroke-width="0.12">FFL</text>
<text x="573.0" y="540.9" font-family="Liberation Sans" font-size="8.2" text-anchor="end" fill="#111" font-weight="normal" textLength="21" lengthAdjust="spacingAndGlyphs" stroke="#111" stroke-width="0.12">-0.05</text>
<rect x="317.2" y="684.8" width="50" height="11.8" fill="#fff" stroke="#1a1a1a" stroke-width="1.2" />
<rect x="331.2" y="676.8" width="22" height="7" fill="#fff"/>
<text x="342.2" y="681.9" font-family="Liberation Sans" font-size="8.2" text-anchor="middle" fill="#111" font-weight="normal" textLength="20" lengthAdjust="spacingAndGlyphs" stroke="#111" stroke-width="0.12">TOILET</text>
<text x="323.5" y="693.9" font-family="Liberation Sans" font-size="8.2" text-anchor="start" fill="#111" font-weight="normal" textLength="11" lengthAdjust="spacingAndGlyphs" stroke="#111" stroke-width="0.12">FFL</text>
<text x="360.7" y="693.9" font-family="Liberation Sans" font-size="8.2" text-anchor="end" fill="#111" font-weight="normal" textLength="21" lengthAdjust="spacingAndGlyphs" stroke="#111" stroke-width="0.12">-0.10</text>
<rect x="449.2" y="684.8" width="50" height="11.8" fill="#fff" stroke="#1a1a1a" stroke-width="1.2" />
<rect x="463.2" y="676.8" width="22" height="7" fill="#fff"/>
<text x="474.2" y="681.9" font-family="Liberation Sans" font-size="8.2" text-anchor="middle" fill="#111" font-weight="normal" textLength="20" lengthAdjust="spacingAndGlyphs" stroke="#111" stroke-width="0.12">TOILET</text>
<text x="455.5" y="693.9" font-family="Liberation Sans" font-size="8.2" text-anchor="start" fill="#111" font-weight="normal" textLength="11" lengthAdjust="spacingAndGlyphs" stroke="#111" stroke-width="0.12">FFL</text>
<text x="492.7" y="693.9" font-family="Liberation Sans" font-size="8.2" text-anchor="end" fill="#111" font-weight="normal" textLength="21" lengthAdjust="spacingAndGlyphs" stroke="#111" stroke-width="0.12">-0.10</text>
<rect x="184.5" y="730.9" width="50" height="11.8" fill="#fff" stroke="#1a1a1a" stroke-width="1.2" />
<rect x="182.65" y="722.9" width="53.7" height="7" fill="#fff"/>
<text x="209.5" y="728.0" font-family="Liberation Sans" font-size="8.2" text-anchor="middle" fill="#111" font-weight="normal" textLength="51.7" lengthAdjust="spacingAndGlyphs" stroke="#111" stroke-width="0.12">LOADING DOCK</text>
<text x="190.8" y="740.0" font-family="Liberation Sans" font-size="8.2" text-anchor="start" fill="#111" font-weight="normal" textLength="11" lengthAdjust="spacingAndGlyphs" stroke="#111" stroke-width="0.12">FFL</text>
<text x="228.0" y="740.0" font-family="Liberation Sans" font-size="8.2" text-anchor="end" fill="#111" font-weight="normal" textLength="21" lengthAdjust="spacingAndGlyphs" stroke="#111" stroke-width="0.12">-0.65</text>
<rect x="582.5" y="730.9" width="50" height="11.8" fill="#fff" stroke="#1a1a1a" stroke-width="1.2" />
<rect x="580.65" y="722.9" width="53.7" height="7" fill="#fff"/>
<text x="607.5" y="728.0" font-family="Liberation Sans" font-size="8.2" text-anchor="middle" fill="#111" font-weight="normal" textLength="51.7" lengthAdjust="spacingAndGlyphs" stroke="#111" stroke-width="0.12">LOADING DOCK</text>
<text x="588.8" y="740.0" font-family="Liberation Sans" font-size="8.2" text-anchor="start" fill="#111" font-weight="normal" textLength="11" lengthAdjust="spacingAndGlyphs" stroke="#111" stroke-width="0.12">FFL</text>
<text x="626.0" y="740.0" font-family="Liberation Sans" font-size="8.2" text-anchor="end" fill="#111" font-weight="normal" textLength="21" lengthAdjust="spacingAndGlyphs" stroke="#111" stroke-width="0.12">-0.65</text>
<rect x="280.6" y="793.7" width="50" height="11.8" fill="#fff" stroke="#1a1a1a" stroke-width="1.2" />
<rect x="293.35" y="785.7" width="24.5" height="7" fill="#fff"/>
<text x="305.6" y="790.8000000000001" font-family="Liberation Sans" font-size="8.2" text-anchor="middle" fill="#111" font-weight="normal" textLength="22.5" lengthAdjust="spacingAndGlyphs" stroke="#111" stroke-width="0.12">OFFICE</text>
<text x="286.90000000000003" y="802.8000000000001" font-family="Liberation Sans" font-size="8.2" text-anchor="start" fill="#111" font-weight="normal" textLength="11" lengthAdjust="spacingAndGlyphs" stroke="#111" stroke-width="0.12">FFL</text>
<text x="324.1" y="802.8000000000001" font-family="Liberation Sans" font-size="8.2" text-anchor="end" fill="#111" font-weight="normal" textLength="21" lengthAdjust="spacingAndGlyphs" stroke="#111" stroke-width="0.12">±0.00</text>
<rect x="486" y="793.7" width="50" height="11.8" fill="#fff" stroke="#1a1a1a" stroke-width="1.2" />
<rect x="498.75" y="785.7" width="24.5" height="7" fill="#fff"/>
<text x="511" y="790.8000000000001" font-family="Liberation Sans" font-size="8.2" text-anchor="middle" fill="#111" font-weight="normal" textLength="22.5" lengthAdjust="spacingAndGlyphs" stroke="#111" stroke-width="0.12">OFFICE</text>
<text x="492.3" y="802.8000000000001" font-family="Liberation Sans" font-size="8.2" text-anchor="start" fill="#111" font-weight="normal" textLength="11" lengthAdjust="spacingAndGlyphs" stroke="#111" stroke-width="0.12">FFL</text>
<text x="529.5" y="802.8000000000001" font-family="Liberation Sans" font-size="8.2" text-anchor="end" fill="#111" font-weight="normal" textLength="21" lengthAdjust="spacingAndGlyphs" stroke="#111" stroke-width="0.12">±0.00</text>
<rect x="184.5" y="936" width="50" height="11.8" fill="#fff" stroke="#1a1a1a" stroke-width="1.2" />
<rect x="195.5" y="928" width="28" height="7" fill="#fff"/>
<text x="209.5" y="933.1" font-family="Liberation Sans" font-size="8.2" text-anchor="middle" fill="#111" font-weight="normal" textLength="26" lengthAdjust="spacingAndGlyphs" stroke="#111" stroke-width="0.12">TERRACE</text>
<text x="190.8" y="945.1" font-family="Liberation Sans" font-size="8.2" text-anchor="start" fill="#111" font-weight="normal" textLength="11" lengthAdjust="spacingAndGlyphs" stroke="#111" stroke-width="0.12">FFL</text>
<text x="228.0" y="945.1" font-family="Liberation Sans" font-size="8.2" text-anchor="end" fill="#111" font-weight="normal" textLength="21" lengthAdjust="spacingAndGlyphs" stroke="#111" stroke-width="0.12">-0.05</text>
<rect x="582.5" y="936" width="50" height="11.8" fill="#fff" stroke="#1a1a1a" stroke-width="1.2" />
<rect x="593.5" y="928" width="28" height="7" fill="#fff"/>
<text x="607.5" y="933.1" font-family="Liberation Sans" font-size="8.2" text-anchor="middle" fill="#111" font-weight="normal" textLength="26" lengthAdjust="spacingAndGlyphs" stroke="#111" stroke-width="0.12">TERRACE</text>
<text x="588.8" y="945.1" font-family="Liberation Sans" font-size="8.2" text-anchor="start" fill="#111" font-weight="normal" textLength="11" lengthAdjust="spacingAndGlyphs" stroke="#111" stroke-width="0.12">FFL</text>
<text x="626.0" y="945.1" font-family="Liberation Sans" font-size="8.2" text-anchor="end" fill="#111" font-weight="normal" textLength="21" lengthAdjust="spacingAndGlyphs" stroke="#111" stroke-width="0.12">-0.05</text>
</svg>
<div id="sb"><svg width="720" height="59" viewBox="0 0 720 59">
<text x="45.5" y="40.5" font-family="Liberation Sans" font-size="25" fill="#f2f2f2" textLength="62.5" lengthAdjust="spacingAndGlyphs">10.29</text>
<circle cx="132.6" cy="31.4" r="9.6" fill="none" stroke="#eeeeee" stroke-width="4.6"/>
<circle cx="132.6" cy="31.4" r="3.4" fill="#d8d8d8"/>
<rect x="131.1" y="37.2" width="3" height="7" fill="#202020"/>
<rect x="150.8" y="18.9" width="25.3" height="25" rx="8" fill="#f7f5f2"/>
<path d="M156,27 q4,-4 8,-1" stroke="#3a8a5a" stroke-width="1.6" fill="none"/>
<path d="M155,33 q6,3 12,0" stroke="#c06a3a" stroke-width="1.6" fill="none"/>
<path d="M163,28 q4,6 0,12 M167,34 a3,3 0 1 0 0.1,0" stroke="#a04030" stroke-width="1.1" fill="none"/>
<rect x="169" y="23" width="3" height="3" fill="#555"/>
<path d="M195,21 L195,36.5 A5.6,5.6 0 1 1 189.4,31 M195,21 Q196,27 204,28" stroke="#25d5e0" stroke-width="3.8" fill="none" transform="translate(-1.2,-1)"/>
<path d="M195,21 L195,36.5 A5.6,5.6 0 1 1 189.4,31 M195,21 Q196,27 204,28" stroke="#e83050" stroke-width="3.8" fill="none" transform="translate(1.2,1)"/>
<path d="M195,21 L195,36.5 A5.6,5.6 0 1 1 189.4,31 M195,21 Q196,27 204,28" stroke="#ffffff" stroke-width="3.4" fill="none"/>
<circle cx="226.7" cy="31.2" r="3.9" fill="#eeeeee"/>
<path d="M488.5,28 L493,28 L501.5,21.5 L501.5,40.5 L493,34.5 L488.5,34.5 Z" fill="#eeeeee"/>
<path d="M489,22 L507.5,40" stroke="#202020" stroke-width="4"/>
<path d="M489.8,22.2 L507.4,39.8" stroke="#eeeeee" stroke-width="2"/>
<text x="519.3" y="29.7" font-family="Liberation Sans" font-weight="bold" font-size="11.3" fill="#eeeeee" textLength="19" lengthAdjust="spacingAndGlyphs">Vo))</text>
<text x="519.3" y="40.6" font-family="Liberation Sans" font-weight="bold" font-size="11.3" fill="#eeeeee" textLength="19" lengthAdjust="spacingAndGlyphs">LTE</text>
<text x="548" y="30" font-family="Liberation Sans" font-weight="bold" font-size="11.8" fill="#eeeeee" textLength="16" lengthAdjust="spacingAndGlyphs">4G</text>
<path d="M552,32 L552,40 M549.5,37.5 L552,40 L554.5,37.5 M560,40 L560,32 M557.5,34.5 L560,32 L562.5,34.5" stroke="#8a8a8a" stroke-width="1.5" fill="none"/>
<rect x="574" y="35.8" width="2.4" height="4.8" fill="#eeeeee"/>
<rect x="579.2" y="31" width="2.4" height="9.6" fill="#eeeeee"/>
<rect x="584.1" y="26.2" width="2.4" height="14.4" fill="#eeeeee"/>
<rect x="588.9" y="21.4" width="2.4" height="19.2" fill="#707070"/>
<text x="601.5" y="40.6" font-family="Liberation Sans" font-size="25" fill="#f2f2f2" textLength="53" lengthAdjust="spacingAndGlyphs">97%</text>
<rect x="661.2" y="23.5" width="13.6" height="17.1" rx="2" fill="#eeeeee"/>
<rect x="665.3" y="21.4" width="5.4" height="3" rx="1" fill="#eeeeee"/>
</svg></div>
<div id="nb"><svg width="720" height="90" viewBox="0 1510 720 90">
<path d="M150.6,1543.3 V1567.8 M162.4,1543.3 V1567.8 M174.3,1543.3 V1567.8" stroke="#d0d0d0" stroke-width="2.6" stroke-linecap="round"/>
<rect x="350.3" y="1542.3" width="26.4" height="26.4" rx="9" fill="none" stroke="#d0d0d0" stroke-width="2.6"/>
<path d="M572.8,1541.7 L558.4,1555.5 L572.8,1569.4" stroke="#d0d0d0" stroke-width="2.6" fill="none" stroke-linecap="round" stroke-linejoin="round"/>
</svg></div>
</body></html>
